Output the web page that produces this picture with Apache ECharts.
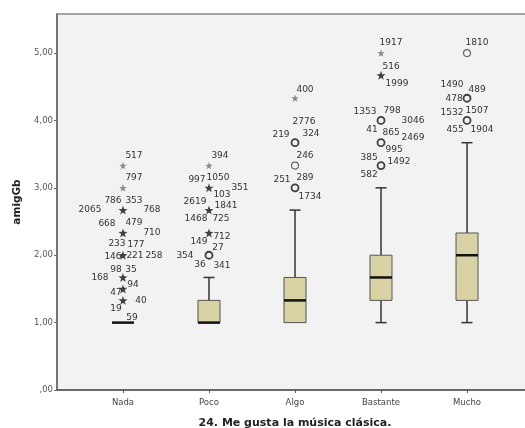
<!DOCTYPE html>
<html>
<head>
<meta charset="utf-8">
<script src="https://cdn.jsdelivr.net/npm/echarts@6/dist/echarts.min.js"></script>
<style>
html,body{margin:0;padding:0;background:#fff;}
#chart{width:525px;height:428px;}
</style>
</head>
<body>
<div id="chart"></div>
<script>
// ---- DATA ----
const categories = ['Nada', 'Poco', 'Algo', 'Bastante', 'Mucho'];
const yTickValues = [0, 1, 2, 3, 4, 5];
const yTickLabels = [',00', '1,00', '2,00', '3,00', '4,00', '5,00'];
const xTitle = '24. Me gusta la música clásica.';
const yTitle = 'amigGb';

// [lower whisker, Q1, median, Q3, upper whisker] per category
const boxLow    = [1.00, 1.00, 1.00, 1.00, 1.00];
const boxQ1     = [1.00, 1.00, 1.00, 1.33, 1.33];
const boxMedian = [1.00, 1.00, 1.33, 1.67, 2.00];
const boxQ3     = [1.00, 1.33, 1.67, 2.00, 2.33];
const boxHigh   = [1.00, 1.67, 2.67, 3.00, 3.67];

// extreme values (stars): [category index, value]
const extremes = [
  [0, 3.33], [0, 3.00], [0, 2.67], [0, 2.33], [0, 2.00], [0, 1.67], [0, 1.50], [0, 1.33],
  [1, 3.33], [1, 3.00], [1, 2.67], [1, 2.33],
  [2, 4.33],
  [3, 5.00], [3, 4.67]
];
// outliers (circles): [category index, value]
const outliers = [
  [1, 2.00],
  [2, 3.67], [2, 3.33], [2, 3.00],
  [3, 4.00], [3, 3.67], [3, 3.33],
  [4, 5.00], [4, 4.33], [4, 4.00]
];
// case labels: [category index, value, case id]
const caseLabels = [
  [0, 3.33, '517'],
  [0, 3.00, '797'],
  [0, 2.67, '786'], [0, 2.67, '353'], [0, 2.67, '2065'], [0, 2.67, '768'],
  [0, 2.33, '668'], [0, 2.33, '479'], [0, 2.33, '710'],
  [0, 2.00, '233'], [0, 2.00, '177'], [0, 2.00, '146'], [0, 2.00, '221'], [0, 2.00, '258'],
  [0, 1.67, '98'], [0, 1.67, '35'], [0, 1.67, '168'],
  [0, 1.50, '47'], [0, 1.50, '94'],
  [0, 1.33, '40'], [0, 1.33, '19'],
  [0, 1.00, '59'],
  [1, 3.33, '394'],
  [1, 3.00, '997'], [1, 3.00, '1050'], [1, 3.00, '103'], [1, 3.00, '351'],
  [1, 2.67, '2619'], [1, 2.67, '1841'], [1, 2.67, '1468'], [1, 2.67, '725'],
  [1, 2.33, '712'], [1, 2.33, '149'],
  [1, 2.00, '27'], [1, 2.00, '354'], [1, 2.00, '36'], [1, 2.00, '341'],
  [2, 4.33, '400'],
  [2, 3.67, '2776'], [2, 3.67, '219'], [2, 3.67, '324'],
  [2, 3.33, '246'],
  [2, 3.00, '251'], [2, 3.00, '289'], [2, 3.00, '1734'],
  [3, 5.00, '1917'],
  [3, 4.67, '516'], [3, 4.67, '1999'],
  [3, 4.00, '1353'], [3, 4.00, '798'], [3, 4.00, '3046'],
  [3, 3.67, '41'], [3, 3.67, '865'], [3, 3.67, '2469'], [3, 3.67, '995'],
  [3, 3.33, '385'], [3, 3.33, '1492'], [3, 3.33, '582'],
  [4, 5.00, '1810'],
  [4, 4.33, '1490'], [4, 4.33, '489'], [4, 4.33, '478'],
  [4, 4.00, '1532'], [4, 4.00, '1507'], [4, 4.00, '455'], [4, 4.00, '1904']
];

// ---- LAYOUT (pixel offsets of each case label from its marker) ----
const labelOffsets = [
  [11,-10],
  [11,-10],
  [-10,-9],[11,-9],[-33,0],[29,0],
  [-16,-9],[11,-10],[29,0],
  [-6,-12],[13,-11],[-10,1],[12,0],[31,0],
  [-7,-8],[8,-8],[-23,0],
  [-7,4],[10,-4],
  [18,0],[-7,8],
  [9,-5],
  [11,-10],
  [-12,-8],[9,-10],[13,7],[31,0],
  [-14,-8],[17,-4],[-13,9],[12,9],
  [13,4],[-10,9],
  [9,-8],[-24,0],[-9,9],[13,10],
  [10,-9],
  [9,-21],[-14,-8],[16,-9],
  [10,-10],
  [-13,-8],[10,-10],[15,9],
  [10,-10],
  [10,-9],[16,8],
  [-16,-9],[11,-10],[32,0],
  [-9,-13],[10,-10],[32,-5],[13,7],
  [-12,-8],[18,-4],[-12,9],
  [10,-10],
  [-15,-14],[10,-9],[-13,0],
  [-15,-8],[10,-10],[-12,9],[15,9]
];

function countAt(c, v) {
  return caseLabels.filter(l => l[0] === c && l[1] === v).length;
}

const STAR = 'path://M0,-10L2.35,-3.24L9.51,-3.09L3.8,1.24L5.88,8.09L0,4L-5.88,8.09L-3.8,1.24L-9.51,-3.09L-2.35,-3.24Z';
const FONT = "'DejaVu Sans', sans-serif";

const boxData = categories.map((c, i) => [i, boxLow[i], boxQ1[i], boxMedian[i], boxQ3[i], boxHigh[i]]);

const chart = echarts.init(document.getElementById('chart'), null, {renderer: 'canvas'});
chart.setOption({
  animation: false,
  backgroundColor: '#ffffff',
  grid: {
    left: 57, right: -8, top: 14, bottom: 38,
    outerBoundsMode: 'none', containLabel: false,
    show: true, backgroundColor: '#f2f2f2', borderColor: '#8a8a8a', borderWidth: 1.5
  },
  xAxis: {
    type: 'value', min: -0.767, max: 4.767,
    name: xTitle, nameLocation: 'middle', nameGap: 28,
    nameTextStyle: {fontFamily: FONT, fontSize: 11, fontWeight: 'bold', color: '#222'},
    axisLine: {show: true, onZero: false, lineStyle: {color: '#555', width: 1.5}},
    axisTick: {show: true, customValues: categories.map((c, i) => i), length: 3, lineStyle: {color: '#555'}},
    axisLabel: {
      customValues: categories.map((c, i) => i),
      formatter: v => categories[Math.round(v)] || '',
      fontFamily: FONT, fontSize: 8.5, color: '#444', margin: 8
    },
    splitLine: {show: false}
  },
  yAxis: {
    type: 'value', min: 0, max: 5.58, interval: 1,
    name: yTitle, nameLocation: 'middle', nameGap: 29, nameRotate: 90,
    nameTextStyle: {fontFamily: FONT, fontSize: 10.5, fontWeight: 'bold', color: '#222'},
    axisLine: {show: true, onZero: false, lineStyle: {color: '#666', width: 1.5}},
    axisTick: {show: true, length: 3, lineStyle: {color: '#666'}},
    axisLabel: {
      showMaxLabel: false,
      formatter: v => { const k = yTickValues.indexOf(Math.round(v)); return k >= 0 ? yTickLabels[k] : ''; },
      fontFamily: FONT, fontSize: 8.5, color: '#555', margin: 4
    },
    splitLine: {show: false}
  },
  series: [
    {
      type: 'custom',
      data: boxData,
      renderItem: function (params, api) {
        const i = api.value(0);
        const pLow = api.coord([i, api.value(1)]);
        const pQ1 = api.coord([i, api.value(2)]);
        const pMed = api.coord([i, api.value(3)]);
        const pQ3 = api.coord([i, api.value(4)]);
        const pHigh = api.coord([i, api.value(5)]);
        const x = pMed[0];
        const hw = 11, cw = 5.5;
        const line = {stroke: '#333', lineWidth: 1.5};
        const children = [];
        if (pHigh[1] < pQ3[1]) {
          children.push({type: 'line', shape: {x1: x, y1: pHigh[1], x2: x, y2: pQ3[1]}, style: line});
          children.push({type: 'line', shape: {x1: x - cw, y1: pHigh[1], x2: x + cw, y2: pHigh[1]}, style: line});
        }
        if (pLow[1] > pQ1[1]) {
          children.push({type: 'line', shape: {x1: x, y1: pQ1[1], x2: x, y2: pLow[1]}, style: line});
          children.push({type: 'line', shape: {x1: x - cw, y1: pLow[1], x2: x + cw, y2: pLow[1]}, style: line});
        }
        if (pQ1[1] > pQ3[1]) {
          children.push({type: 'rect', shape: {x: x - hw, y: pQ3[1], width: 2 * hw, height: pQ1[1] - pQ3[1]},
            style: {fill: '#d8d2a4', stroke: '#555', lineWidth: 1}});
        }
        children.push({type: 'line', shape: {x1: x - hw, y1: pMed[1], x2: x + hw, y2: pMed[1]},
          style: {stroke: '#111', lineWidth: 2.5}});
        return {type: 'group', children: children};
      },
      z: 2
    },
    {
      type: 'scatter',
      data: extremes.map(p => ({
        value: p,
        itemStyle: countAt(p[0], p[1]) > 1 ? {color: '#111'} : {color: '#707070'},
        symbolSize: countAt(p[0], p[1]) > 1 ? 9 : 7.5
      })),
      symbol: STAR,
      z: 3
    },
    {
      type: 'scatter',
      data: outliers.map(p => ({
        value: p,
        itemStyle: {color: 'transparent', borderColor: countAt(p[0], p[1]) > 1 ? '#111' : '#444',
          borderWidth: countAt(p[0], p[1]) > 1 ? 1.8 : 1.2}
      })),
      symbol: 'circle',
      symbolSize: 7,
      z: 3
    },
    {
      type: 'custom',
      data: caseLabels.map((l, k) => [l[0], l[1], k]),
      renderItem: function (params, api) {
        const k = api.value(2);
        const p = api.coord([api.value(0), api.value(1)]);
        const off = labelOffsets[k];
        return {
          type: 'text',
          x: p[0] + off[0], y: p[1] + off[1],
          style: {text: caseLabels[k][2], fill: '#333', font: '9px ' + FONT, align: 'center', verticalAlign: 'middle'}
        };
      },
      z: 4
    }
  ]
});
</script>
</body>
</html>
